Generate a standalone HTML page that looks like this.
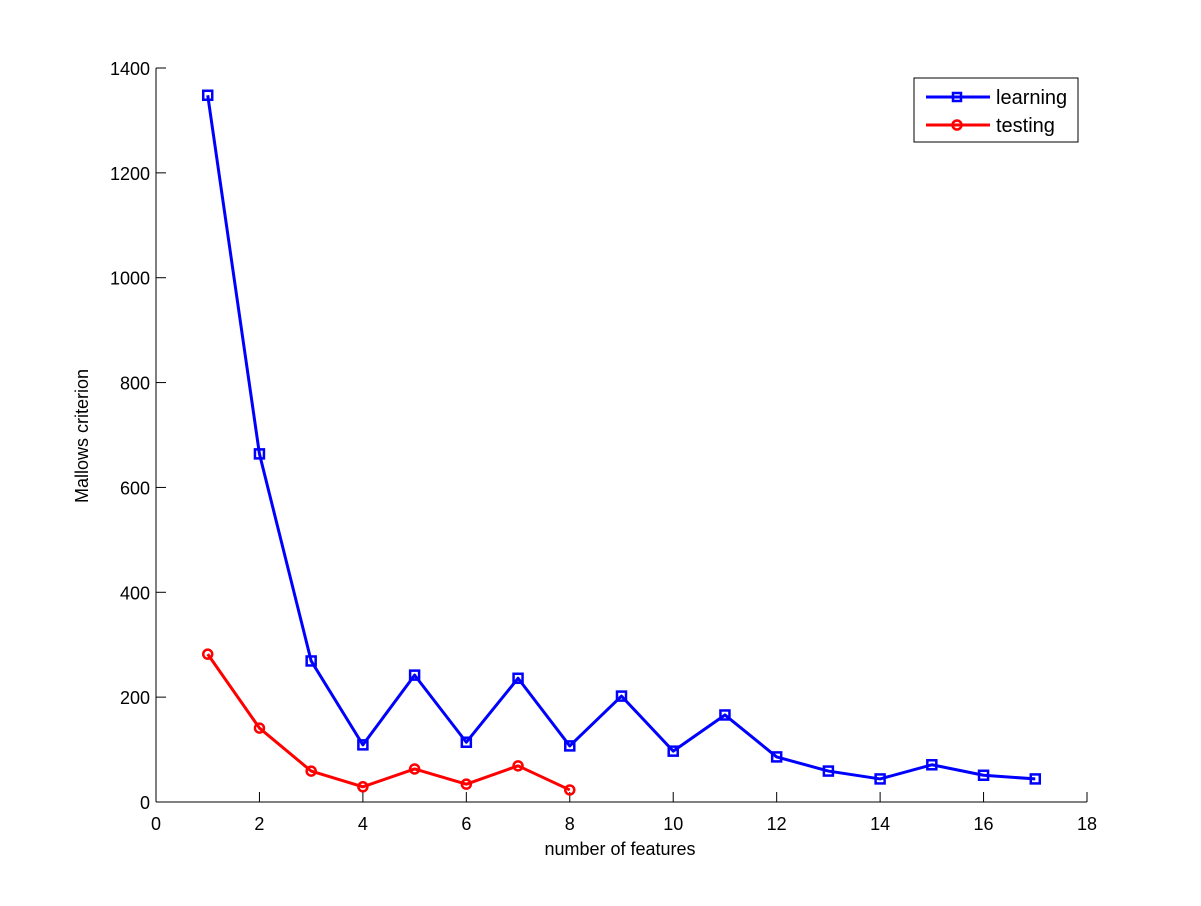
<!DOCTYPE html>
<html><head><meta charset="utf-8"><style>
body{margin:0;background:#fff;}
svg text{font-family:"Liberation Sans",Arial,sans-serif;font-size:18px;fill:#000;}
</style></head><body>
<svg width="1201" height="901" viewBox="0 0 1201 901">
<rect width="1201" height="901" fill="#fff"/>
<g id="axes"></g>
<g id="series"></g>
<g>
<rect x="914" y="78" width="164" height="64" fill="#fff" stroke="#000" stroke-width="1"/>
<g>
<line x1="926" y1="97" x2="990" y2="97" stroke="#0000ff" stroke-width="3"/>
<rect x="953" y="93" width="8" height="8" fill="none" stroke="#0000ff" stroke-width="2.5"/>
<text x="996" y="104" style="font-size:20px">learning</text></g>
<g>
<line x1="926" y1="125" x2="990" y2="125" stroke="#ff0000" stroke-width="3"/>
<circle cx="957" cy="125" r="4.5" fill="none" stroke="#ff0000" stroke-width="2.5"/>
<text x="996" y="132" style="font-size:20px">testing</text></g>
</g>
<text x="620" y="855" text-anchor="middle">number of features</text>
<text transform="translate(88,436) rotate(-90)" text-anchor="middle">Mallows criterion</text>
</svg>
<script>
const xTicks=[0,2,4,6,8,10,12,14,16,18];
const yTicks=[0,200,400,600,800,1000,1200,1400];
const learningX=[1,2,3,4,5,6,7,8,9,10,11,12,13,14,15,16,17];
const learningY=[1348,664,269,109,242,114,236,107,202,97,166,86,59,44,71,51,44];
const testingX=[1,2,3,4,5,6,7,8];
const testingY=[282,141,59,29,63,34,69,23];
const L=156,R=1087,T=68,B=802;
const sx=v=>L+(v-0)/(18-0)*(R-L);
const sy=v=>B-(v-0)/(1400-0)*(B-T);
const NS="http://www.w3.org/2000/svg";
function mk(tag,attrs,parent){const e=document.createElementNS(NS,tag);for(const k in attrs)e.setAttribute(k,attrs[k]);parent.appendChild(e);return e;}
const ax=document.getElementById('axes');
const xl=mk('line',{x1:L,y1:B,x2:R,y2:B,stroke:'#000','stroke-width':1},ax);


const yl=mk('line',{x1:L,y1:T,x2:L,y2:B,stroke:'#000','stroke-width':1},ax);


xTicks.forEach(v=>{const x=sx(v);
mk('line',{x1:x,y1:B,x2:x,y2:B-10,stroke:'#000'},ax);
const t=mk('text',{x:x,y:B+28,'text-anchor':'middle'},ax);t.textContent=v;

});
yTicks.forEach(v=>{const y=sy(v);
mk('line',{x1:L,y1:y,x2:L+10,y2:y,stroke:'#000'},ax);
const t=mk('text',{x:L-6,y:y+7,'text-anchor':'end'},ax);t.textContent=v;

});
const sg=document.getElementById('series');
function drawSeries(xs,ys,color,marker,name){
const g=mk('g',{},sg);


const pts=xs.map((x,i)=>sx(x)+','+sy(ys[i])).join(' ');
const pl=mk('polyline',{points:pts,fill:'none',stroke:color,'stroke-width':3,'stroke-linejoin':'round'},g);


xs.forEach((x,i)=>{let m;
if(marker==='square')m=mk('rect',{x:sx(x)-4.5,y:sy(ys[i])-4.5,width:9,height:9,fill:'none',stroke:color,'stroke-width':2.5},g);
else m=mk('circle',{cx:sx(x),cy:sy(ys[i]),r:4.5,fill:'none',stroke:color,'stroke-width':2.5},g);

});
}
drawSeries(learningX,learningY,'#0000ff','square','learning');
drawSeries(testingX,testingY,'#ff0000','circle','testing');
</script>
</body></html>
